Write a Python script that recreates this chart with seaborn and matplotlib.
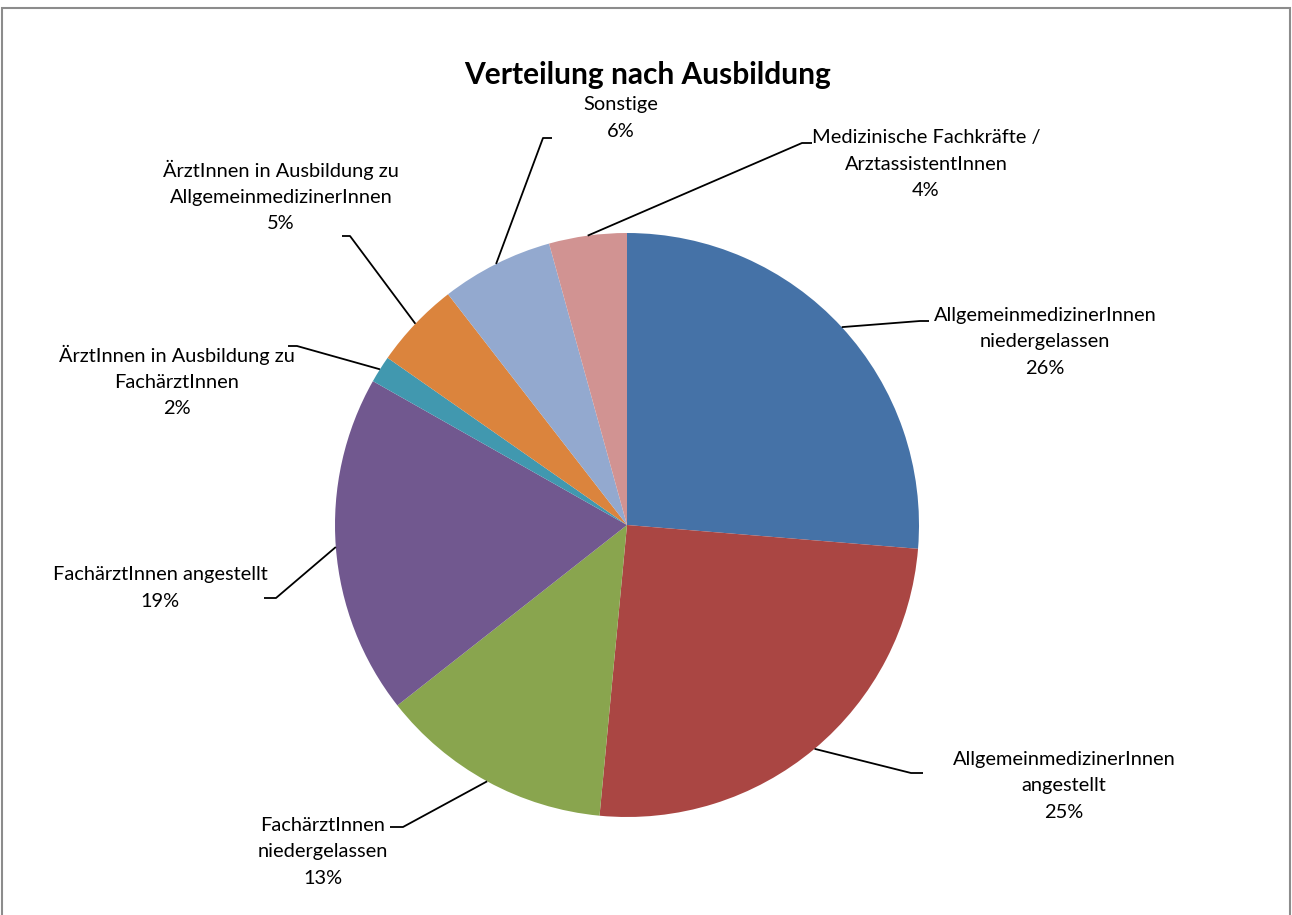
import numpy as np
import matplotlib
matplotlib.use('Agg')
import matplotlib.pyplot as plt
import seaborn as sns
from matplotlib.patches import Rectangle

# Data, clockwise from 12 o'clock
categories = [
    'AllgemeinmedizinerInnen\nniedergelassen',
    'AllgemeinmedizinerInnen\nangestellt',
    'FachärztInnen\nniedergelassen',
    'FachärztInnen angestellt',
    'ÄrztInnen in Ausbildung zu\nFachärztInnen',
    'ÄrztInnen in Ausbildung zu\nAllgemeinmedizinerInnen',
    'Sonstige',
    'Medizinische Fachkräfte /\nArztassistentInnen',
]
shares = [26.3, 25.2, 12.9, 18.8, 1.5, 4.8, 6.2, 4.3]
colors = ['#4572A7', '#AA4643', '#89A54E', '#71588F',
          '#4198AF', '#DB843D', '#93A9CF', '#D19392']
title = 'Verteilung nach Ausbildung'

# Layout in image pixels (x, y from top-left)
W, H = 1292, 915
CENTER = (627, 525)
RADIUS = 292
label_pos = [(1045, 342), (1064, 786), (323, 852), (160, 588),
             (177, 381), (281, 196), (621, 118), (926, 164)]
elbows = [(920, 321), (911, 773), (403, 827), (276, 598),
          (297, 346), (350, 236), (543, 138), (802, 143)]
ends = [(929, 321), (923, 773), (390, 827), (264, 598),
        (288, 346), (342, 236), (552, 138), (812, 143)]


def fy(y):
    # image y (down) -> data y (up)
    return H - y


sns.set_theme(style='white')
plt.rcParams['font.family'] = ['Lato', 'DejaVu Sans']

fig = plt.figure(figsize=(W / 100, H / 100), dpi=100)
ax = fig.add_axes([0, 0, 1, 1])
ax.set_xlim(0, W)
ax.set_ylim(0, H)
ax.set_aspect('equal')
ax.axis('off')

wedges, _ = ax.pie(shares, colors=sns.color_palette(colors), startangle=90,
                   counterclock=False, center=(CENTER[0], fy(CENTER[1])),
                   radius=RADIUS, wedgeprops=dict(linewidth=0))
ax.set_xlim(0, W)
ax.set_ylim(0, H)

total = sum(shares)
for i, w in enumerate(wedges):
    mid = np.deg2rad((w.theta1 + w.theta2) / 2)
    ax_x = CENTER[0] + RADIUS * np.cos(mid)
    ax_y = fy(CENTER[1]) + RADIUS * np.sin(mid)
    ex, ey = elbows[i]
    nx, ny = ends[i]
    ax.plot([ax_x, ex, nx], [ax_y, fy(ey), fy(ny)], color='black', lw=1.3,
            solid_capstyle='butt', zorder=3)
    pct = round(shares[i] / total * 100)
    lx, ly = label_pos[i]
    ax.text(lx, fy(ly), f'{categories[i]}\n{pct}%', ha='center', va='center',
            fontsize=14.4, linespacing=1.66, color='black')

ax.text(648, fy(75), title, ha='center', va='center', fontsize=21.5,
        fontweight='bold', color='black')

# chart frame
ax.add_patch(Rectangle((2, fy(H + 10)), W - 4, H + 2, fill=False,
                       edgecolor='#8c8c8c', lw=1.5, clip_on=False))

fig.savefig('out.png', dpi=100)
